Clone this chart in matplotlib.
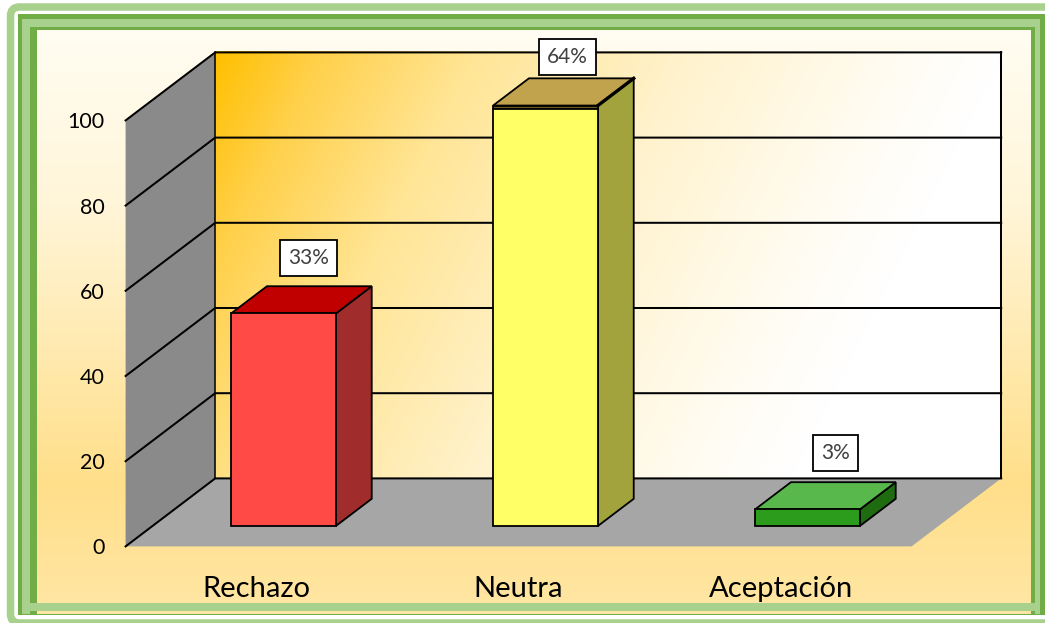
import numpy as np
import matplotlib
matplotlib.use("Agg")
import matplotlib.pyplot as plt
from matplotlib.colors import LinearSegmentedColormap
from matplotlib.patches import FancyBboxPatch, Polygon, Rectangle

categories = ["Rechazo", "Neutra", "Aceptación"]
bar_values = [49.9, 97.9, 3.9]
value_labels = ["33%", "64%", "3%"]
y_ticks = [0, 20, 40, 60, 80, 100]

front_colors = ["#FF4A45", "#FFFF66", "#2C9C1C"]
side_colors = ["#A02C2C", "#A3A33E", "#1E6B10"]
top_colors = ["#C00000", "#C1A34D", "#59B84C"]

# where the boxes sit relative to the bar top
label_dx = [0.198, 0.187, 0.21]
label_dy = [13.1, 12.1, 13.3]
# the tall bar has a dark strip under its top face
strip_heights = [0, 0.8, 0]

W, H = 1045, 623
DEPTH_X = 89.6 / 262
DEPTH_Y = 68 / 4.26
BAR_WIDTH = 0.4
BAR_FRONT = 0.3
BAR_BACK = 0.7
LIGHT_GREEN = "#A9D18E"
GREEN = "#70AD47"
FONT = "Lato"

fig = plt.figure(figsize=(W / 100, H / 100), dpi=100)

# page background and the frames, in pixel coords
bg = fig.add_axes([0, 0, 1, 1])
bg.set_xlim(0, W)
bg.set_ylim(H, 0)
bg.axis("off")
bg.add_patch(FancyBboxPatch((10.5, 7), 1100, 616, boxstyle="round,pad=0,rounding_size=9",
                            fc="white", ec=LIGHT_GREEN, lw=5.4))
bg.add_patch(Rectangle((18, 14), W - 18, 601, fc=GREEN, ec="none"))
bg.add_patch(Rectangle((22, 19), 1018, 595, fc=LIGHT_GREEN, ec="none"))
bg.add_patch(Rectangle((30, 27), 1005, 587, fc=GREEN, ec="none"))
page_cmap = LinearSegmentedColormap.from_list(
    "page", [(0, "#FFFDF2"), (0.3, "#FFF5D8"), (0.78, "#FFDF8A"), (1, "#FFE6A4")])
bg.imshow(np.linspace(0, 1, 300).reshape(-1, 1), cmap=page_cmap, aspect="auto",
          extent=[37, 1031, 614, 30], zorder=2)
bg.add_patch(Rectangle((30, 603), 1005, 8, fc=LIGHT_GREEN, ec="none", zorder=3))
bg.set_xlim(0, W)
bg.set_ylim(H, 0)

# real chart axes, spanning the front edge of the floor
ax = fig.add_axes([125.6 / W, (H - 546.4) / H, 786 / W, 426 / H])
ax.patch.set_alpha(0)
for spine in ax.spines.values():
    spine.set_visible(False)

x0, x1 = -0.5, 2.5
y0, y1 = y_ticks[0], y_ticks[-1]

# back wall gradient
wall_cmap = LinearSegmentedColormap.from_list(
    "wall", [(0, "#FFC000"), (0.12, "#FFD04A"), (0.3, "#FFE595"), (0.55, "#FFF2CC"),
             (0.8, "#FFFCF2"), (0.92, "#FFFFFF"), (1, "#FFFFFF")])
gx, gy = np.meshgrid(np.linspace(0, 786, 300), np.linspace(0, 426, 200))
wall_t = np.clip((gx + 0.5 * gy) / 860, 0, 1)
ax.imshow(wall_t, cmap=wall_cmap, aspect="auto", zorder=1, clip_on=False, vmin=0, vmax=1,
          extent=[x0 + DEPTH_X, x1 + DEPTH_X, y0 + DEPTH_Y, y1 + DEPTH_Y], origin="upper")

ax.add_patch(Polygon([(x0, y0), (x0 + DEPTH_X, y0 + DEPTH_Y), (x1 + DEPTH_X, y0 + DEPTH_Y), (x1, y0)],
                     fc="#A6A6A6", ec="none", zorder=1, clip_on=False))
ax.add_patch(Polygon([(x0, y0), (x0 + DEPTH_X, y0 + DEPTH_Y), (x0 + DEPTH_X, y1 + DEPTH_Y), (x0, y1)],
                     fc="#8A8A8A", ec="none", zorder=1, clip_on=False))

for tick in y_ticks:
    ax.plot([x0, x0 + DEPTH_X, x1 + DEPTH_X], [tick, tick + DEPTH_Y, tick + DEPTH_Y],
            color="black", lw=1.45, zorder=2, clip_on=False, solid_joinstyle="miter")
ax.plot([x0 + DEPTH_X] * 2, [y0 + DEPTH_Y, y1 + DEPTH_Y], color="black", lw=1.1, zorder=2, clip_on=False)
ax.plot([x1 + DEPTH_X] * 2, [y0 + DEPTH_Y, y1 + DEPTH_Y], color="black", lw=1.45, zorder=2, clip_on=False)

# bars as three faces each
for i, value in enumerate(bar_values):
    left = i - BAR_WIDTH / 2 + BAR_FRONT * DEPTH_X
    right = left + BAR_WIDTH
    base = BAR_FRONT * DEPTH_Y
    top = base + value
    cap = top + strip_heights[i]
    shift_x = (BAR_BACK - BAR_FRONT) * DEPTH_X
    shift_y = (BAR_BACK - BAR_FRONT) * DEPTH_Y
    face = dict(ec="black", lw=1.3, zorder=3, clip_on=False, joinstyle="miter")
    ax.add_patch(Polygon([(right, base), (right + shift_x, base + shift_y),
                          (right + shift_x, cap + shift_y), (right, cap)], fc=side_colors[i], **face))
    ax.add_patch(Polygon([(left, cap), (left + shift_x, cap + shift_y),
                          (right + shift_x, cap + shift_y), (right, cap)], fc=top_colors[i], **face))
    if strip_heights[i]:
        ax.add_patch(Polygon([(left, top), (left, cap), (right, cap), (right, top)], fc="#6B5A20", **face))
        ax.plot([right, right + shift_x], [cap, cap + shift_y], color="black", lw=2.4, zorder=4, clip_on=False)
    ax.add_patch(Polygon([(left, base), (left, top), (right, top), (right, base)], fc=front_colors[i], **face))
    ax.text(i + label_dx[i], top + label_dy[i], value_labels[i], family=FONT, fontsize=15, color="#404040",
            ha="center", va="center", zorder=6, clip_on=False,
            bbox=dict(boxstyle="square,pad=0.38", fc="white", ec="black", lw=1.3))

ax.set_xlim(x0, x1)
ax.set_ylim(y0, y1)
ax.set_xticks(range(len(categories)))
ax.set_xticklabels(categories, family=FONT, fontsize=21)
ax.set_yticks(y_ticks)
ax.set_yticklabels(y_ticks, family=FONT, fontsize=15.5)
ax.tick_params(axis="both", length=0)
ax.tick_params(axis="x", pad=21)
ax.tick_params(axis="y", pad=15)

fig.savefig("out.png", dpi=100)
